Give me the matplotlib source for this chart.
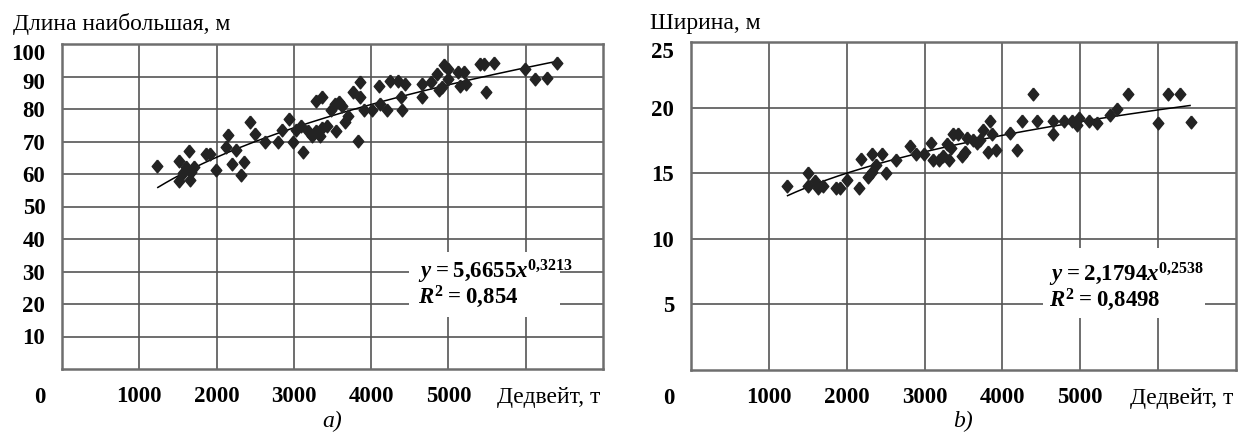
import matplotlib
matplotlib.use('Agg')
import matplotlib.pyplot as plt
import matplotlib.transforms as mtransforms
from matplotlib.patches import Rectangle
import numpy as np

plt.rcParams['font.family'] = ['Liberation Serif', 'DejaVu Serif']
plt.rcParams['mathtext.fontset'] = 'custom'
plt.rcParams['mathtext.rm'] = 'Liberation Serif:bold'
plt.rcParams['mathtext.it'] = 'Liberation Serif:italic:bold'
plt.rcParams['mathtext.bf'] = 'Liberation Serif:bold'

# --- data (deadweight, t) ---
len_dwt = [1235, 1515, 1515, 1566, 1648, 1607, 1673, 1658, 1709, 1862, 1913, 1990,
           2143, 2128, 2245, 2194, 2321, 2357, 2434, 2500, 2628, 2796, 2842, 2934,
           2995, 3112, 3026, 3087, 3189, 3240, 3291, 3342, 3367, 3423, 3281, 3367,
           3546, 3485, 3536, 3587, 3628, 3663, 3699, 3765, 3827, 3852, 3862, 3903,
           4005, 4107, 4117, 4199, 4250, 4352, 4439, 4388, 4403, 4658, 4658, 4770,
           4847, 4872, 4949, 5000, 4923, 5000, 5128, 5204, 5153, 5230, 5408, 5459,
           5587, 5485, 5995, 6122, 6276, 6403]
len_m = [62.6, 63.9, 57.7, 60.2, 67.1, 62.2, 60.7, 58.2, 62.2, 66.1, 66.1, 61.2,
         71.9, 68.4, 67.3, 63.1, 59.7, 63.8, 76.0, 72.4, 69.9, 69.9, 73.5, 76.8,
         69.7, 66.8, 73.5, 74.7, 73.2, 71.8, 73.2, 71.6, 74.2, 74.7, 82.4, 83.7,
         73.2, 79.6, 81.4, 82.1, 80.8, 76.0, 78.0, 85.2, 70.3, 88.3, 83.7, 79.6,
         79.6, 87.2, 81.6, 79.6, 88.6, 88.6, 87.8, 83.7, 79.8, 83.7, 87.8, 88.3,
         90.8, 85.7, 93.4, 92.3, 86.7, 89.3, 91.3, 91.3, 87.2, 87.8, 93.9, 93.9,
         94.1, 85.1, 92.3, 89.3, 89.6, 94.1]

wid_dwt = [1236, 1509, 1509, 1589, 1625, 1690, 1867, 1917, 2003, 2154, 2180, 2270,
           2321, 2381, 2331, 2447, 2507, 2634, 2810, 2896, 2987, 3088, 3113, 3189,
           3239, 3315, 3290, 3365, 3431, 3340, 3481, 3517, 3542, 3618, 3668, 3718,
           3754, 3845, 3819, 3920, 3870, 4097, 4188, 4248, 4389, 4440, 4652, 4652,
           4793, 4894, 4980, 5106, 4955, 5217, 5384, 5470, 5611, 6004, 6130, 6277,
           6418]
wid_m = [14.0, 15.05, 14.0, 14.4, 13.9, 14.0, 13.9, 13.9, 14.5, 13.9, 16.1, 14.7,
         15.1, 15.6, 16.5, 16.5, 15.05, 16.0, 17.1, 16.5, 16.5, 17.3, 16.0, 16.0,
         16.3, 16.0, 17.2, 18.0, 18.0, 16.9, 16.3, 16.6, 17.7, 17.5, 17.3, 17.5,
         18.3, 19.0, 16.6, 16.8, 18.0, 18.1, 16.8, 19.0, 21.0, 19.0, 19.0, 18.0,
         19.0, 19.0, 19.2, 19.0, 18.7, 18.8, 19.4, 19.9, 21.0, 18.8, 21.0, 21.0,
         18.9]

# power trend lines shown on the chart
len_coef, len_exp = 5.6655, 0.3213
wid_coef, wid_exp = 2.1794, 0.2538
fit_from, fit_to = 1240, 6410

x_ticks = [1000, 2000, 3000, 4000, 5000]
len_yticks = [10, 20, 30, 40, 50, 60, 70, 80, 90, 100]
wid_yticks = [5, 10, 15, 20, 25]

W, H = 1242, 437
fig = plt.figure(figsize=(W / 100, H / 100), dpi=100)

diamond = [(0, 1), (0.83, 0), (0, -1), (-0.83, 0), (0, 1)]
tick_font = dict(fontsize=16.5, fontweight='bold')
TS = '\u2009'


def px(x0, y0, x1, y1):
    return [x0 / W, 1 - y1 / H, (x1 - x0) / W, (y1 - y0) / H]


def draw_panel(rect, xs, ys, coef, expo, ymax, yticks, title, title_x, eq, r2, box,
               eq_xy, cap):
    ax = fig.add_axes(px(*rect))
    ax.set_xlim(0, 7000)
    ax.set_ylim(0, ymax)
    ax.set_xticks(x_ticks)
    ax.set_xticks([6000], minor=True)
    ax.set_yticks(yticks)
    ax.set_xticklabels([str(t) for t in x_ticks], **tick_font)
    ax.set_yticklabels([str(t) for t in yticks], **tick_font)
    ax.tick_params(axis='both', which='both', length=0)
    ax.tick_params(axis='x', pad=12)
    ax.tick_params(axis='y', pad=12)
    ax.grid(True, which='both', color='#555555', lw=1.2)
    ax.set_axisbelow(True)
    for s in ax.spines.values():
        s.set_color('#6e6e6e')
        s.set_linewidth(1.8)

    # the top labels sit a little below their grid lines in the original
    labels = ax.get_yticklabels()
    labels[-1].set_transform(labels[-1].get_transform() +
                             mtransforms.ScaledTranslation(0, -6 / 72, fig.dpi_scale_trans))
    if len(labels) > 5:
        labels[-2].set_transform(labels[-2].get_transform() +
                                 mtransforms.ScaledTranslation(0, -3 / 72, fig.dpi_scale_trans))

    # white box behind the equation
    bx0, by0, bx1, by1 = box
    fig.patches.append(Rectangle((bx0 / W, 1 - by1 / H), (bx1 - bx0) / W, (by1 - by0) / H,
                                 transform=fig.transFigure, facecolor='white',
                                 edgecolor='none', zorder=3))

    xf = np.linspace(fit_from, fit_to, 200)
    ax.plot(xf, coef * xf ** expo, color='black', lw=1.1, zorder=4)
    ax.plot(xs, ys, linestyle='none', marker=diamond, markersize=9.2,
            color='#232323', zorder=5)

    ex, ey = eq_xy
    fig.text(ex / W, 1 - ey / H, eq, fontsize=16.5, fontweight='bold', va='center',
             zorder=6)
    fig.text(ex / W, 1 - (ey + 25) / H, r2, fontsize=16.5, fontweight='bold',
             va='center', zorder=6)

    fig.text(title_x / W, 1 - 24 / H, title, fontsize=17, va='center')
    ax.annotate('0', xy=(0, 0), xycoords='axes fraction', xytext=(-12, -24.5),
                textcoords='offset points', ha='right', va='baseline', **tick_font)
    ax.annotate('Дедвейт, т', xy=(1, 0), xycoords='axes fraction', xytext=(-2, -24.5),
                textcoords='offset points', ha='right', va='baseline', fontsize=17)
    fig.text((rect[0] + rect[2]) / 2 / W, 1 - 421 / H, cap, fontsize=17,
             style='italic', ha='center', va='center')
    return ax


draw_panel((62, 44, 603, 369), len_dwt, len_m, len_coef, len_exp, 100, len_yticks,
           'Длина наибольшая, м', 13,
           r'$y$' + TS + '=' + TS + r'5,6655$x^{0{,}3213}$',
           r'$R^{2}$' + TS + '=' + TS + '0,854',
           (409, 252, 560, 317), (418, 272), 'a)')
draw_panel((691, 42, 1236, 370), wid_dwt, wid_m, wid_coef, wid_exp, 25, wid_yticks,
           'Ширина, м', 650,
           r'$y$' + TS + '=' + TS + r'2,1794$x^{0{,}2538}$',
           r'$R^{2}$' + TS + '=' + TS + '0,8498',
           (1043, 248, 1205, 318), (1049, 275), 'b)')

fig.savefig('out.png', dpi=100)
